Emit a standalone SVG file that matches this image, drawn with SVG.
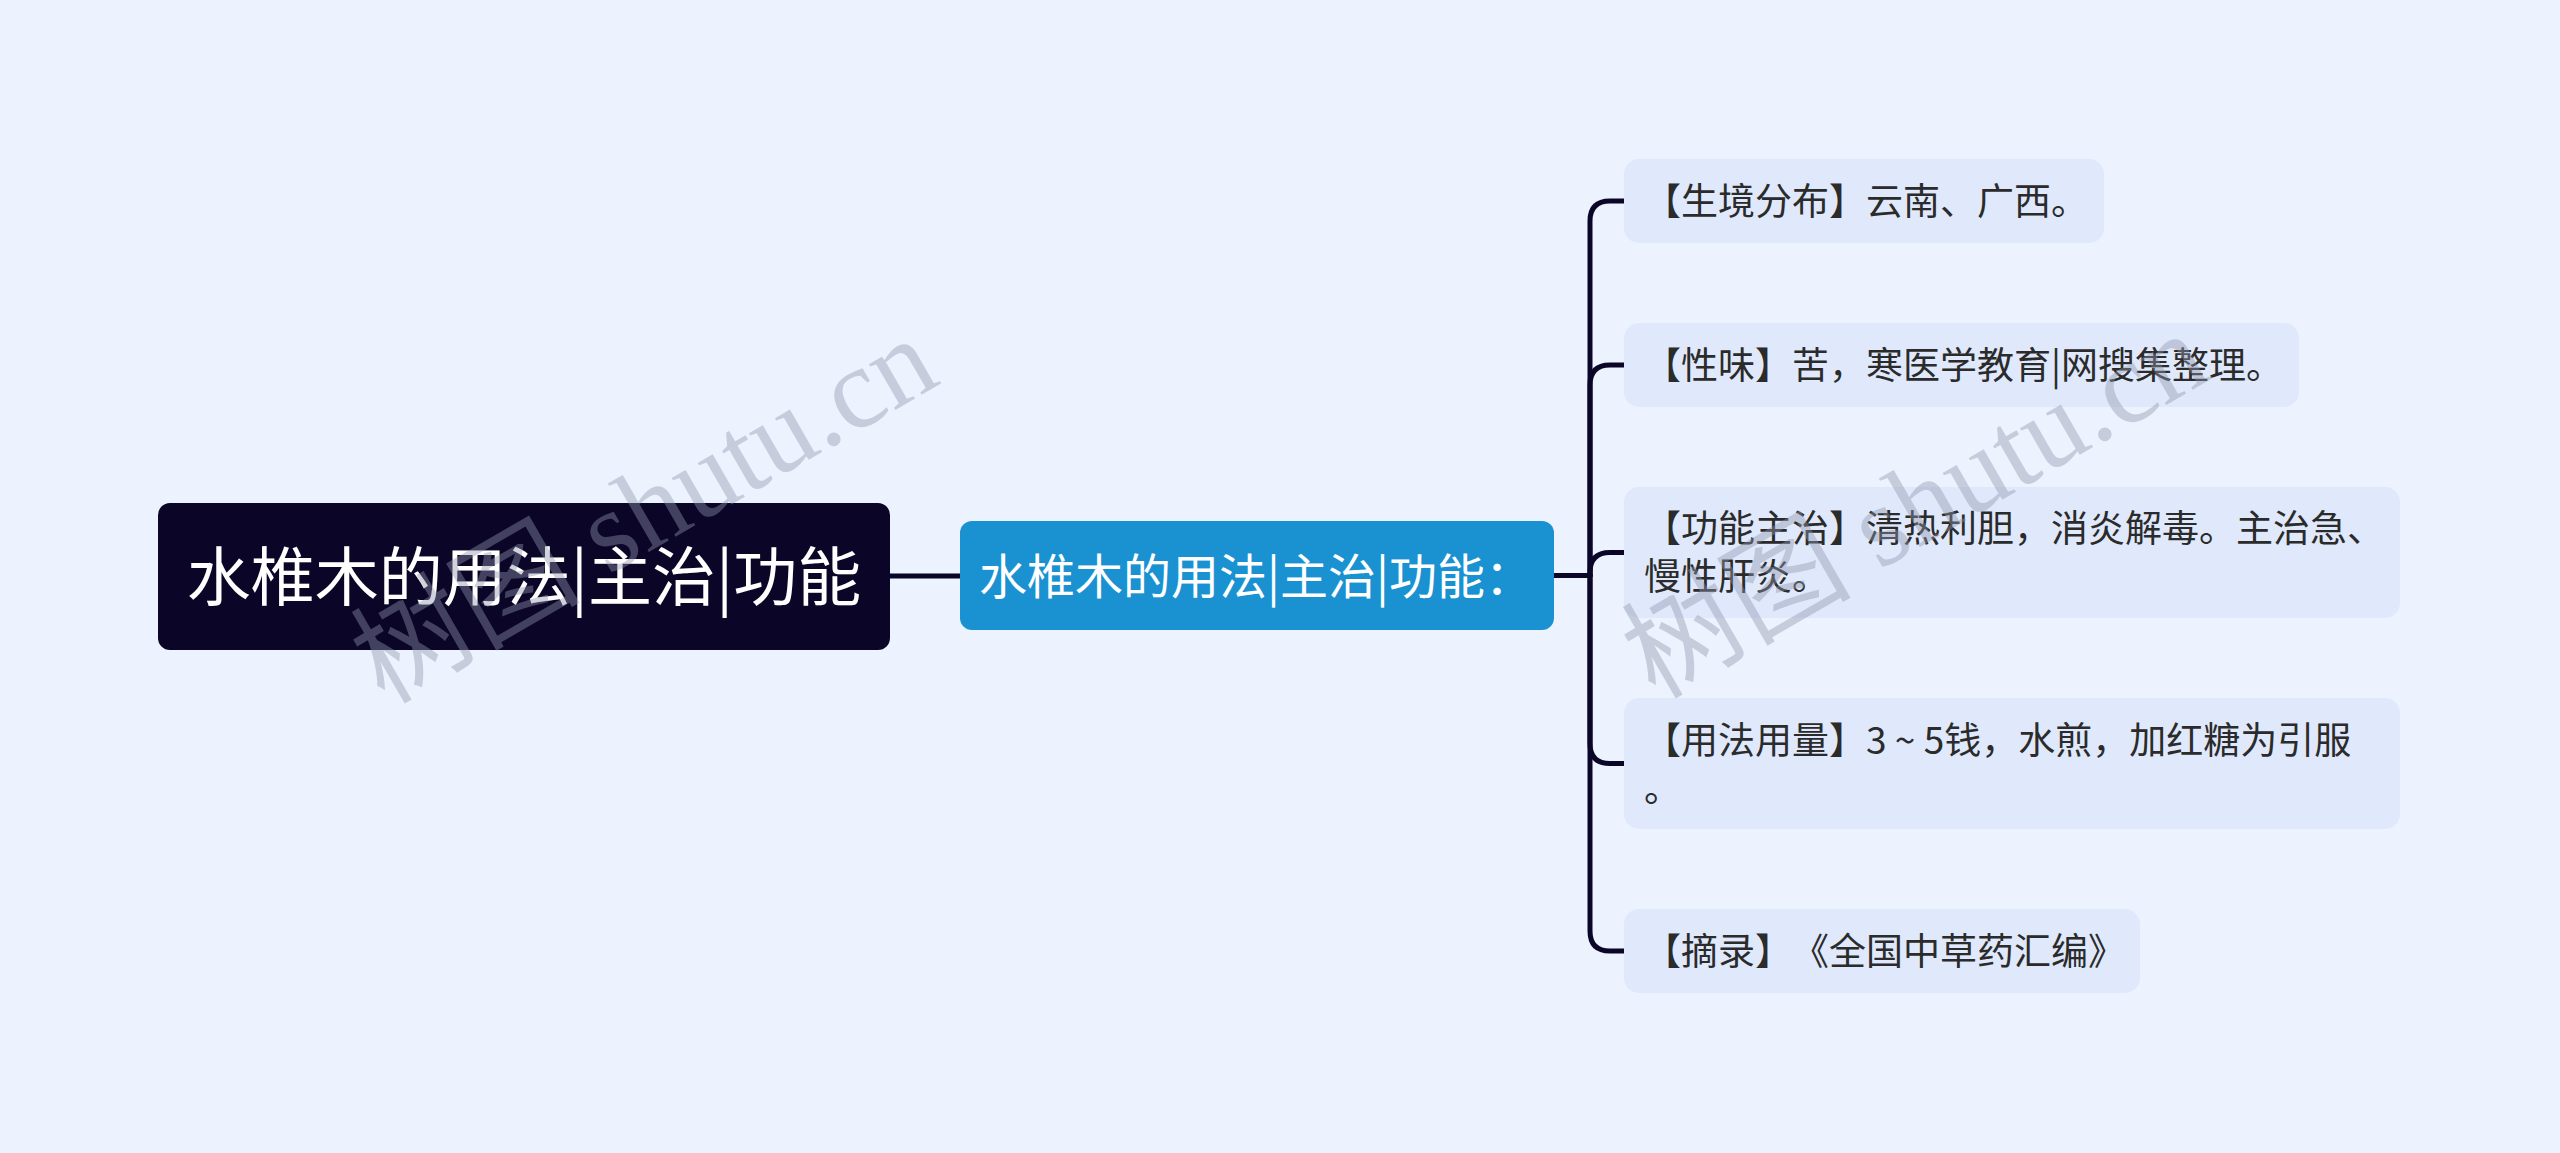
<svg xmlns="http://www.w3.org/2000/svg" width="2560" height="1153" viewBox="0 0 2560 1153">
<style>
.cn{font-family:"Noto Sans CJK SC","Liberation Sans",sans-serif;text-spacing-trim:space-all;}
.root-box{fill:#0B0528;}
.mid-box{fill:#1A91D1;}
.leaf-box{fill:#DFE9FB;}
.root-t{fill:#FFFFFF;font-size:64px;}
.mid-t{fill:#FFFFFF;font-size:48px;}
.leaf-t{fill:#2B2B2B;font-size:37px;}
.link{fill:none;stroke:#0B0528;stroke-width:5;stroke-linecap:round;}
.wm{font-family:"Liberation Serif","Noto Sans CJK SC",serif;font-size:115px;fill:#8E97AB;fill-opacity:0.42;}
</style>
<rect width="2560" height="1153" fill="#EDF3FE"/>
<g id="connectors">
<path class="link" d="M890 576 H960"/>
<path class="link" d="M1554 575.5 H1590"/>
<path class="link" d="M1590 575.5 V221 Q1590 201 1610 201 H1624"/>
<path class="link" d="M1590 575.5 V385 Q1590 365 1610 365 H1624"/>
<path class="link" d="M1590 575.5 V572.5 Q1590 552.5 1610 552.5 H1624"/>
<path class="link" d="M1590 575.5 V743.5 Q1590 763.5 1610 763.5 H1624"/>
<path class="link" d="M1590 575.5 V931 Q1590 951 1610 951 H1624"/>
</g>
<g id="root">
<rect class="root-box" x="158" y="503" width="732" height="147" rx="12"/>
<text class="cn root-t" x="524" y="600" text-anchor="middle">水椎木的用法|主治|功能</text>
</g>
<g id="middle">
<rect class="mid-box" x="960" y="521" width="594" height="109" rx="12"/>
<text class="cn mid-t" x="979" y="594">水椎木的用法|主治|功能：</text>
</g>
<g id="leaf1">
<rect class="leaf-box" x="1624" y="159" width="480" height="84" rx="15"/>
<text class="cn leaf-t" x="1644" y="215">【生境分布】云南、广西。</text>
</g>
<g id="leaf2">
<rect class="leaf-box" x="1624" y="323" width="675" height="84" rx="15"/>
<text class="cn leaf-t" x="1644" y="379">【性味】苦，寒医学教育|网搜集整理。</text>
</g>
<g id="leaf3">
<rect class="leaf-box" x="1624" y="487" width="776" height="131" rx="15"/>
<text class="cn leaf-t" x="1644" y="542">【功能主治】清热利胆，消炎解毒。主治急、</text>
<text class="cn leaf-t" x="1644" y="590">慢性肝炎。</text>
</g>
<g id="leaf4">
<rect class="leaf-box" x="1624" y="698" width="776" height="131" rx="15"/>
<text class="cn leaf-t" x="1644" y="754">【用法用量】3 ~ 5钱，水煎，加红糖为引服</text>
<text class="cn leaf-t" x="1644" y="802">。</text>
</g>
<g id="leaf5">
<rect class="leaf-box" x="1624" y="909" width="516" height="84" rx="15"/>
<text class="cn leaf-t" x="1644" y="965">【摘录】《全国中草药汇编》</text>
</g>
<g id="watermarks">
<text class="wm" transform="translate(384 705) rotate(-30)">树图 shutu.cn</text>
<text class="wm" transform="translate(1655 700) rotate(-30)">树图 shutu.cn</text>
</g>
</svg>
